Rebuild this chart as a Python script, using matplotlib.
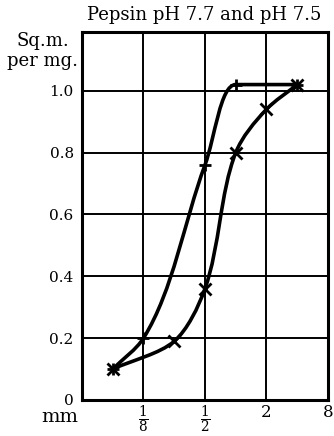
import numpy as np
import matplotlib
matplotlib.use("Agg")
import matplotlib.pyplot as plt
from matplotlib.path import Path
from matplotlib.patches import PathPatch

# readings (x in mm, y in sq.m. per mg)
x_ph77 = [1 / 16, 1 / 8, 1 / 2, 1, 4]
y_ph77 = [0.10, 0.20, 0.76, 1.02, 1.02]
x_ph75 = [1 / 16, 1 / 4, 1 / 2, 1, 2, 4]
y_ph75 = [0.10, 0.19, 0.36, 0.80, 0.94, 1.02]

x_ticks = [1 / 32, 1 / 8, 1 / 2, 2, 8]
x_ticklabels = ["", r"$\frac{1}{8}$", r"$\frac{1}{2}$", "2", "8"]
y_ticks = [0, 0.2, 0.4, 0.6, 0.8, 1.0]
y_ticklabels = ["0", "0.2", "0.4", "0.6", "0.8", "1.0"]

FONT = "DejaVu Serif"
plt.rcParams["mathtext.fontset"] = "dejavuserif"


def pchip_slopes(t, v):
    # Fritsch-Carlson slopes, one component
    h = np.diff(t)
    d = np.diff(v) / h
    m = np.zeros_like(v)
    for k in range(1, len(v) - 1):
        if d[k - 1] * d[k] <= 0:
            m[k] = 0.0
        else:
            w1 = 2 * h[k] + h[k - 1]
            w2 = h[k] + 2 * h[k - 1]
            m[k] = (w1 + w2) / (w1 / d[k - 1] + w2 / d[k])
    m[0] = d[0]
    m[-1] = d[-1]
    return m


def smooth_path(ax, xs, ys):
    """monotone hand-drawn-like curve through the points, built as Bezier segments in display space"""
    pts = ax.transData.transform(np.column_stack([xs, ys]))
    t = np.concatenate([[0], np.cumsum(np.hypot(*np.diff(pts, axis=0).T))])
    mx = pchip_slopes(t, pts[:, 0])
    my = pchip_slopes(t, pts[:, 1])
    tang = np.column_stack([mx, my])
    verts = [pts[0]]
    codes = [Path.MOVETO]
    for i in range(len(pts) - 1):
        h = t[i + 1] - t[i]
        verts += [pts[i] + tang[i] * h / 3, pts[i + 1] - tang[i + 1] * h / 3, pts[i + 1]]
        codes += [Path.CURVE4] * 3
    return Path(verts, codes)


fig = plt.figure(figsize=(3.34, 4.36), dpi=100)
ax = fig.add_axes([0.2455, 0.0826, 0.7365, 0.844])
ax.set_xscale("log", base=2)
ax.set_xlim(1 / 32, 8)
ax.set_ylim(0, 1.19)

ax.set_xticks(x_ticks)
ax.set_xticklabels(x_ticklabels, fontsize=12, family=FONT)
for lab in ax.get_xticklabels()[1:3]:
    lab.set_fontsize(14)
ax.xaxis.set_minor_locator(matplotlib.ticker.NullLocator())
ax.set_yticks(y_ticks)
ax.set_yticklabels(y_ticklabels, fontsize=11, family=FONT)
ax.tick_params(length=0, pad=6)
ax.tick_params(axis="x", pad=3)
ax.grid(True, color="black", linewidth=1.4)
for s in ax.spines.values():
    s.set_linewidth(2.2)

for xs, ys, m in [(x_ph77, y_ph77, "+"), (x_ph75, y_ph75, "x")]:
    ax.plot(xs, ys, linestyle="none", marker=m, color="black", markersize=9, markeredgewidth=2, zorder=4)

fig.canvas.draw()
for xs, ys in [(x_ph77, y_ph77), (x_ph75, y_ph75)]:
    ax.add_patch(PathPatch(smooth_path(ax, xs, ys), transform=None, facecolor="none",
                           edgecolor="black", linewidth=2.6, zorder=3, clip_on=False))

fig.text(0.61, 0.965, "Pepsin pH 7.7 and pH 7.5", ha="center", va="center", fontsize=13, family=FONT)
fig.text(0.235, 0.883, "Sq.m.\nper mg.", ha="right", va="center", multialignment="center",
         fontsize=13, family=FONT, linespacing=1.15)
fig.text(0.235, 0.044, "mm", ha="right", va="center", fontsize=14, family=FONT)

fig.savefig("out.png", dpi=100)
